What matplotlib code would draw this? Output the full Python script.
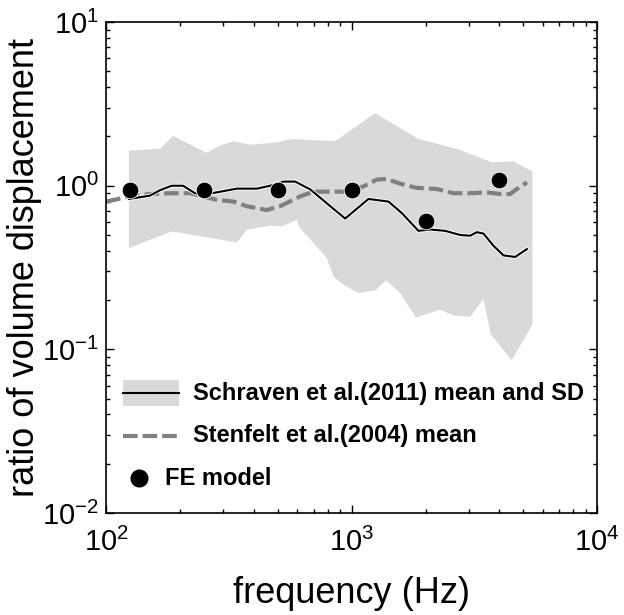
import numpy as np
import matplotlib
matplotlib.use('Agg')
import matplotlib.pyplot as plt
import matplotlib.patheffects as pe
from matplotlib.patches import Rectangle
from matplotlib.lines import Line2D

plt.rcParams['font.family'] = ['Liberation Sans', 'DejaVu Sans']
plt.rcParams['mathtext.fontset'] = 'custom'
plt.rcParams['mathtext.rm'] = 'Liberation Sans'

# Schraven et al. (2011) mean
sch_freq = [124, 151, 166, 185, 206, 230, 249, 341, 411, 466, 528, 589, 678, 941,
            1171, 1413, 1602, 1871, 2088, 2404, 2767, 3039, 3236, 3443, 3781, 4153, 4634, 5173]
sch_mean = [0.83, 0.87, 0.94, 1.00, 1.00, 0.90, 0.88, 0.96, 0.96, 1.00, 1.06, 1.06, 0.95, 0.63,
            0.83, 0.80, 0.68, 0.53, 0.54, 0.53, 0.50, 0.495, 0.52, 0.51, 0.43, 0.375, 0.367, 0.41]

# Schraven SD band (upper / lower edge)
sd_up_freq = [124, 124, 166, 187, 257, 291, 330, 386, 496, 571, 857, 1246, 1871, 2683, 3725, 4560, 5450]
sd_up = [0.416, 1.64, 1.68, 2.02, 1.59, 1.76, 1.87, 1.78, 1.84, 1.93, 1.87, 2.78, 1.93, 1.68, 1.39, 1.41, 1.22]
sd_lo_freq = [124, 151, 185, 341, 374, 466, 520, 598, 617, 792, 843, 926, 1066, 1246, 1382,
              1576, 1831, 2293, 2598, 3039, 3443, 3690, 4494, 5450]
sd_lo = [0.416, 0.468, 0.526, 0.450, 0.538, 0.570, 0.564, 0.620, 0.551, 0.362, 0.279, 0.248, 0.221,
         0.229, 0.264, 0.221, 0.156, 0.175, 0.161, 0.158, 0.203, 0.123, 0.086, 0.142]

# Stenfelt et al. (2004) mean
st_freq = [100, 125, 151, 185, 220, 241, 282, 330, 374, 451, 512, 617, 699, 843, 956, 1117,
           1267, 1391, 1576, 1843, 2223, 2598, 3039, 3554, 4026, 4422, 4709, 5173]
st_mean = [0.80, 0.86, 0.89, 0.90, 0.90, 0.87, 0.82, 0.80, 0.75, 0.71, 0.75, 0.86, 0.92, 0.92, 0.92, 0.99,
           1.09, 1.10, 1.03, 0.97, 0.955, 0.90, 0.90, 0.91, 0.89, 0.89, 0.955, 1.05]

# FE model
fe_freq = [125, 250, 500, 1000, 2000, 4000]
fe_val = [0.945, 0.945, 0.945, 0.945, 0.605, 1.08]

band_color = '#d9d9d9'
dash_color = '#808080'

fig = plt.figure(figsize=(6.24, 6.15), dpi=100)
ax = fig.add_axes([0.170, 0.166, 0.787, 0.798])

band_x = np.r_[sd_up_freq, sd_lo_freq[::-1]]
band_y = np.r_[sd_up, sd_lo[::-1]]
ax.fill(band_x, band_y, color=band_color, lw=0, zorder=1)

halo = [pe.Stroke(linewidth=2.8, foreground='white'), pe.Normal()]
ax.plot(sch_freq, sch_mean, color='black', lw=1.5, zorder=3, path_effects=halo)
ax.plot(st_freq, st_mean, color=dash_color, lw=3, dashes=(3.5, 1.2), zorder=2)
ax.plot(fe_freq, fe_val, 'o', color='black', ms=12, mec='white', mew=0.6, zorder=4)

ax.set_xscale('log')
ax.set_yscale('log')
ax.set_xlim(100, 10000)
ax.set_ylim(0.01, 10)

ax.tick_params(which='both', direction='in', top=True, right=True, labelsize=21, width=1.0)
ax.tick_params(which='major', length=6)
ax.tick_params(axis='y', which='major', pad=5)
ax.tick_params(axis='x', which='major', pad=11)
ax.tick_params(which='minor', length=3)
for s in ax.spines.values():
    s.set_linewidth(1.2)

ax.set_xlabel('frequency (Hz)', fontsize=26)
ax.xaxis.set_label_coords(0.5, -0.128)
ax.set_ylabel('ratio of volume displacement', fontsize=26)
ax.yaxis.set_label_coords(-0.13, 0.5)

# legend drawn by hand to keep the original layout
tr = ax.transAxes
ax.add_patch(Rectangle((0.035, 0.218), 0.114, 0.052, transform=tr, color=band_color, lw=0, zorder=5))
ax.add_line(Line2D([0.035, 0.149], [0.244, 0.244], transform=tr, color='black', lw=1.5, zorder=6))
ax.text(0.177, 0.244, 'Schraven et al.(2011) mean and SD', transform=tr, fontsize=17,
        fontweight='bold', va='center', ha='left')
ax.add_line(Line2D([0.035, 0.149], [0.157, 0.157], transform=tr, color=dash_color, lw=3,
                   dashes=(3.5, 1.2), zorder=6))
ax.text(0.177, 0.157, 'Stenfelt et al.(2004) mean', transform=tr, fontsize=17,
        fontweight='bold', va='center', ha='left')
ax.add_line(Line2D([0.067], [0.071], transform=tr, marker='o', color='black', ms=12, lw=0, zorder=6))
ax.text(0.120, 0.071, 'FE model', transform=tr, fontsize=17,
        fontweight='bold', va='center', ha='left')

fig.savefig('out.png', dpi=100)
